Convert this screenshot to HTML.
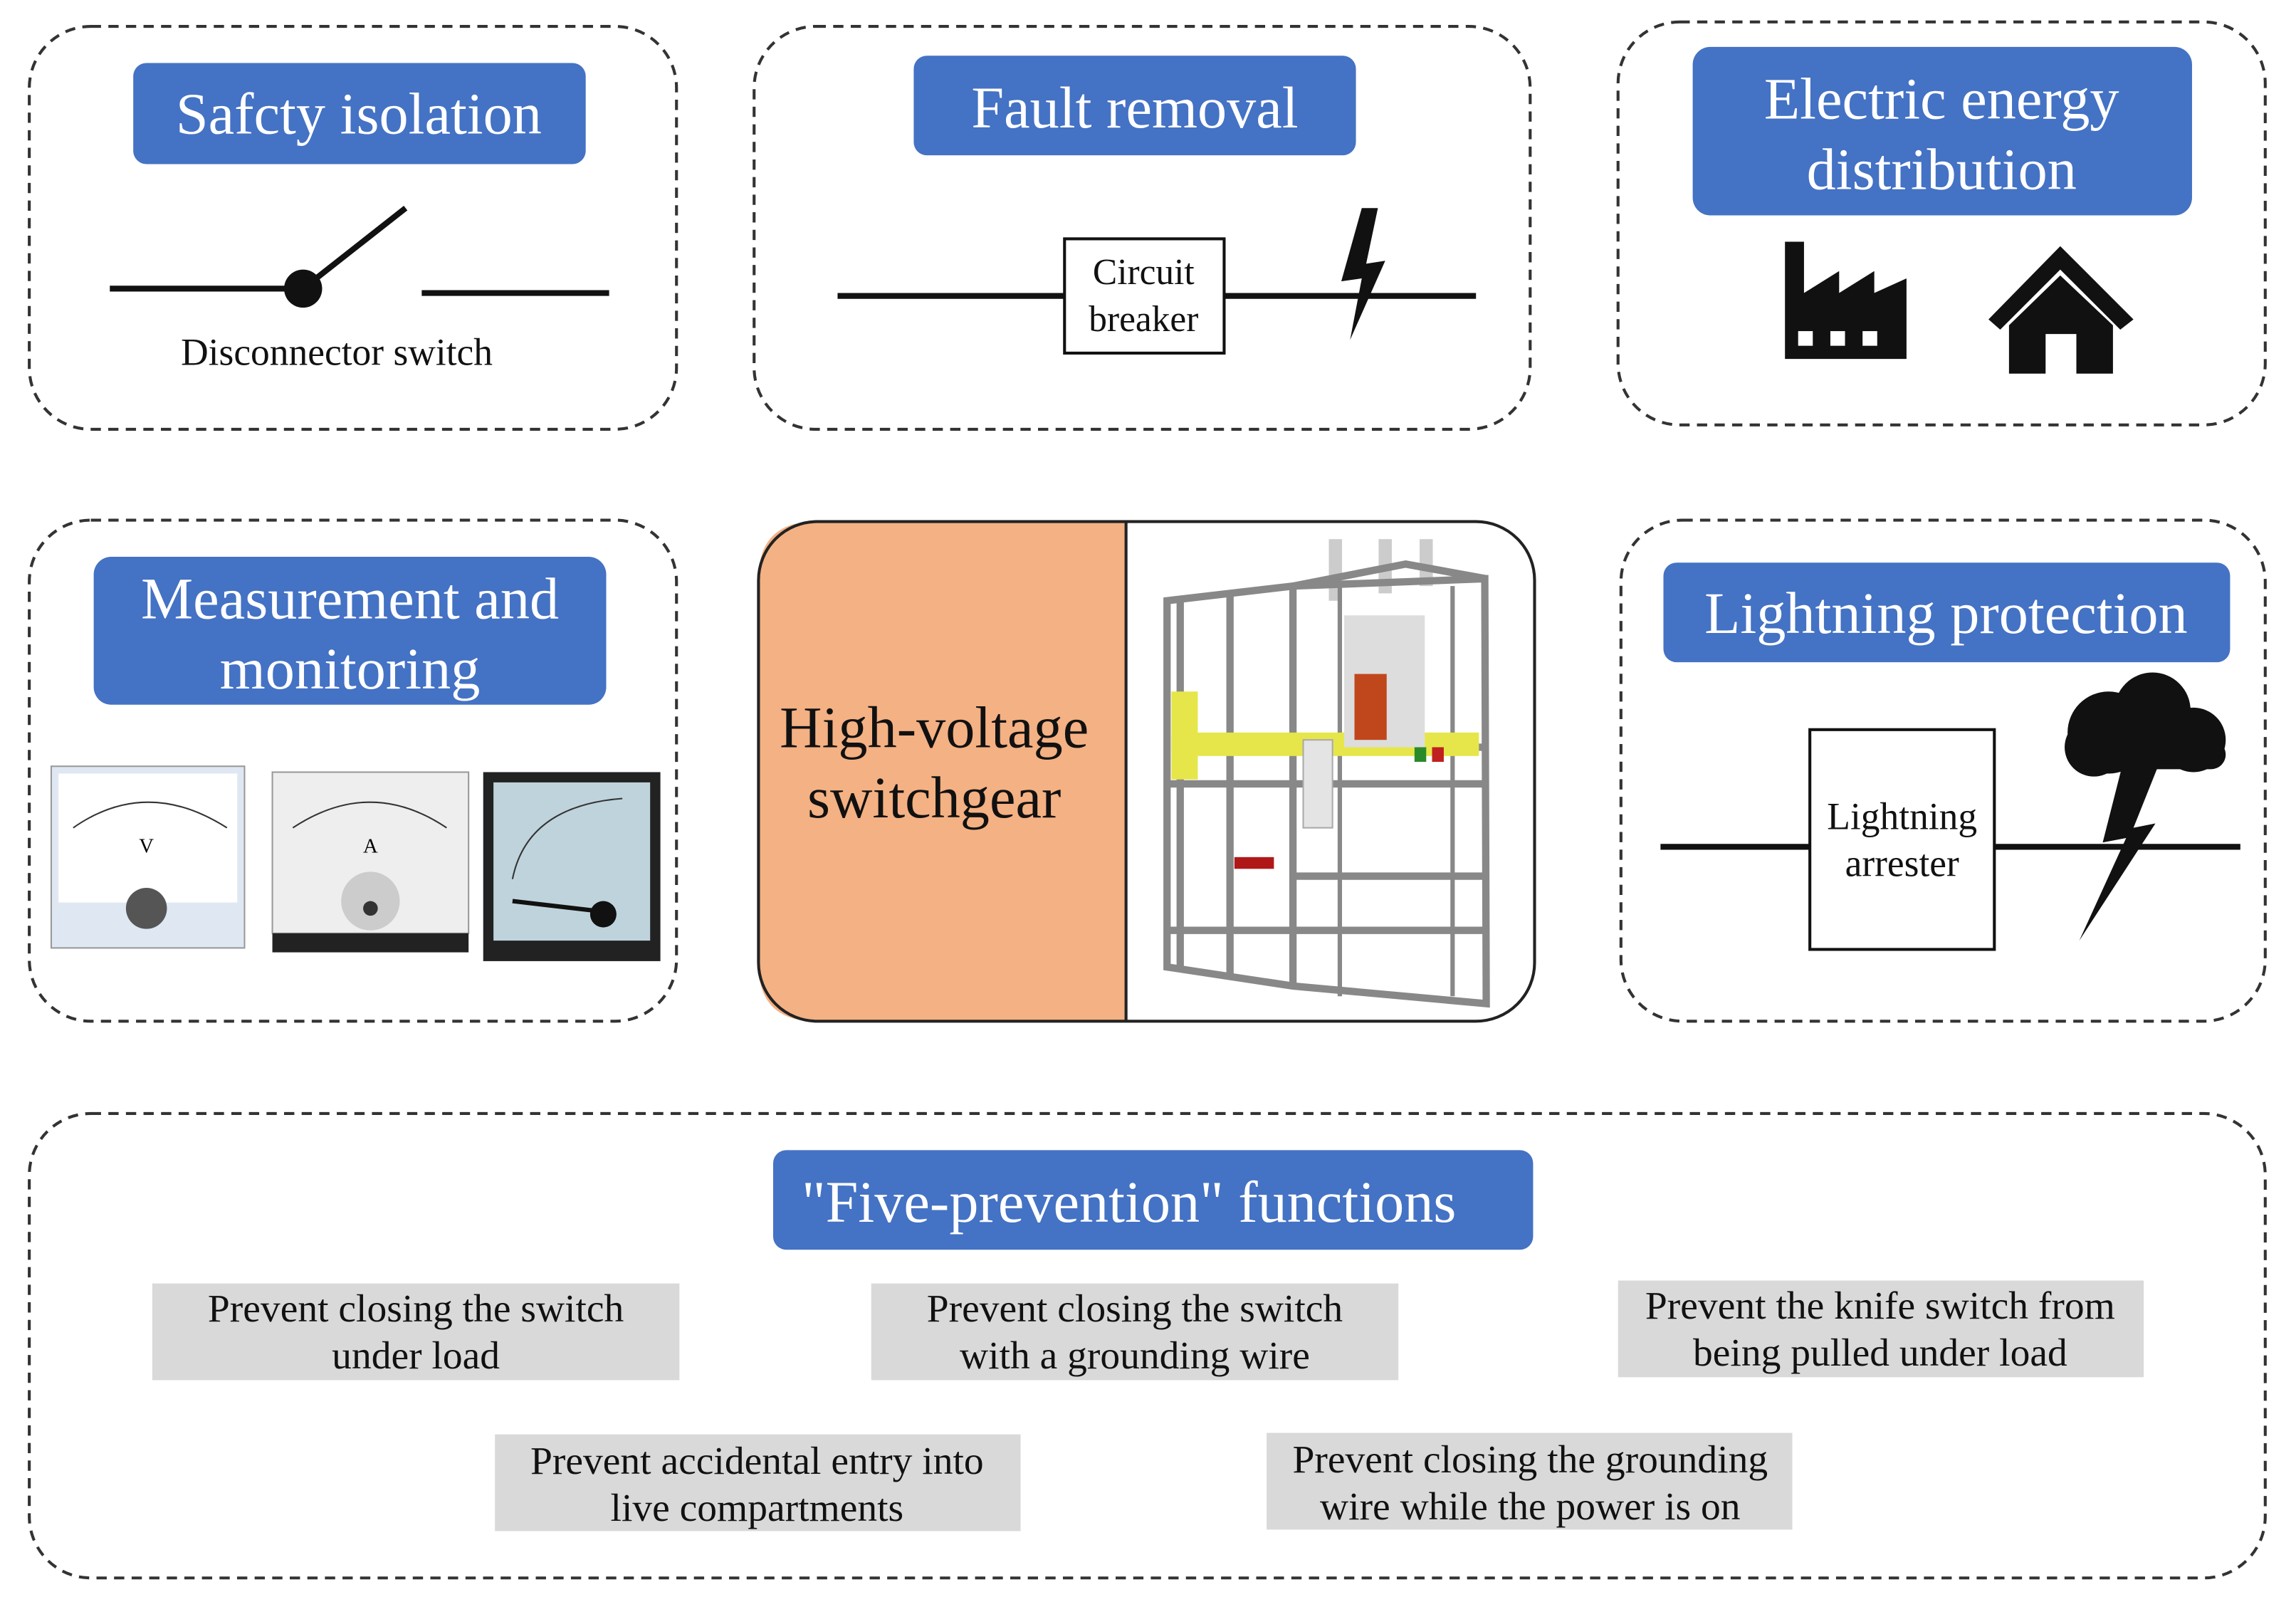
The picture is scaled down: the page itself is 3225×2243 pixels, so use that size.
<!DOCTYPE html>
<html><head><meta charset="utf-8"><style>
html,body{margin:0;padding:0;background:#fff;}
svg{display:block;}
text{font-family:"Liberation Serif",serif;}
</style></head><body>
<svg width="3225" height="2243" viewBox="0 0 1568 1090" preserveAspectRatio="none" xmlns="http://www.w3.org/2000/svg">
<rect width="1568" height="1090" fill="#fff"/>
<g fill="none" stroke="#333" stroke-width="2" stroke-dasharray="7,5">
<rect x="20" y="18" width="442" height="275" rx="42"/>
<rect x="515" y="18" width="530" height="275" rx="42"/>
<rect x="1105" y="15" width="442" height="275" rx="42"/>
<rect x="20" y="355" width="442" height="342" rx="42"/>
<rect x="1107" y="355" width="440" height="342" rx="42"/>
<rect x="20" y="760" width="1527" height="317" rx="42"/>
</g>
<!-- center -->
<path d="M769 356 H557 Q518 356 518 395 V658 Q518 697 557 697 H769 Z" fill="#F4B183"/>
<rect x="518" y="356" width="530" height="341" rx="40" fill="none" stroke="#222" stroke-width="2"/>
<line x1="769" y1="356" x2="769" y2="697" stroke="#222" stroke-width="2"/>
<text x="638" y="510" font-size="40" text-anchor="middle" fill="#111">High-voltage</text>
<text x="638" y="558" font-size="40" text-anchor="middle" fill="#111">switchgear</text>
<!-- switchgear drawing -->
<g stroke="#888" stroke-width="5" fill="none">
<path d="M912 368 V410 M946 368 V405 M974 368 V400" stroke="#ccc" stroke-width="9"/>
<path d="M797 410 L883 400 L1014 395 L1015 685 L883 673 L797 660 Z"/>
<path d="M883 400 V673 M840 405 V667 M806 410 V660"/>
<path d="M883 400 L960 385 L1015 395"/>
<path d="M797 535 H1015 M797 635 H1015 M883 510 H1015 M883 598 H1015"/>
<path d="M992 400 V680 M915 400 V680" stroke-width="3"/>
</g>
<rect x="800" y="472" width="18" height="60" fill="#e6e64a"/>
<rect x="800" y="500" width="210" height="16" fill="#e6e64a"/>
<rect x="918" y="420" width="55" height="90" fill="#ddd"/>
<rect x="925" y="460" width="22" height="45" fill="#c0471c"/>
<rect x="966" y="510" width="8" height="10" fill="#2a8a2a"/><rect x="978" y="510" width="8" height="10" fill="#c02020"/>
<rect x="843" y="585" width="27" height="8" fill="#b01818"/>
<rect x="890" y="505" width="20" height="60" fill="#e4e4e4" stroke="#aaa"/>
<!-- labels -->
<g fill="#4472C4">
<rect x="91" y="43" width="309" height="69" rx="9"/>
<rect x="624" y="38" width="302" height="68" rx="9"/>
<rect x="1156" y="32" width="341" height="115" rx="12"/>
<rect x="64" y="380" width="350" height="101" rx="12"/>
<rect x="1136" y="384" width="387" height="68" rx="9"/>
<rect x="528" y="785" width="519" height="68" rx="9"/>
</g>
<g fill="#fff" font-size="40" text-anchor="middle">
<text x="245" y="91">Safcty isolation</text>
<text x="775" y="87">Fault removal</text>
<text x="1326" y="81">Electric energy</text>
<text x="1326" y="129">distribution</text>
<text x="239" y="422">Measurement and</text>
<text x="239" y="470">monitoring</text>
<text x="1329" y="432">Lightning protection</text>
<text x="771" y="834">"Five-prevention" functions</text>
</g>
<!-- switch -->
<g stroke="#111" stroke-width="4">
<line x1="75" y1="197" x2="207" y2="197"/>
<line x1="207" y1="197" x2="277" y2="142"/>
<line x1="288" y1="200" x2="416" y2="200"/>
<line x1="572" y1="202" x2="727" y2="202"/>
<line x1="836" y1="202" x2="1008" y2="202"/>
<line x1="1134" y1="578" x2="1236" y2="578"/>
<line x1="1362" y1="578" x2="1530" y2="578"/>
</g>
<circle cx="207" cy="197" r="13" fill="#111"/>
<text x="230" y="249" font-size="26" text-anchor="middle" fill="#111">Disconnector switch</text>
<rect x="727" y="163" width="109" height="78" fill="#fff" stroke="#111" stroke-width="2"/>
<text x="781" y="194" font-size="25" text-anchor="middle" fill="#111">Circuit</text>
<text x="781" y="226" font-size="25" text-anchor="middle" fill="#111">breaker</text>
<path d="M930 142 L916 192 L930 190 L922 232 L946 178 L933 180 L941 142 Z" fill="#111"/>
<!-- factory -->
<path d="M1219 245 V165 H1232 V200 L1256 185 V200 L1280 185 V200 L1302 190 V245 Z" fill="#111"/>
<g fill="#fff"><rect x="1228" y="226" width="10" height="10"/><rect x="1250" y="226" width="10" height="10"/><rect x="1272" y="226" width="10" height="10"/></g>
<!-- house -->
<path d="M1358 218 L1407 168 L1457 218 L1448 225 L1407 184 L1366 225 Z" fill="#111"/>
<path d="M1372 222 L1407 188 L1443 222 V255 H1418 V228 H1397 V255 H1372 Z" fill="#111"/>
<!-- lightning arrester -->
<rect x="1236" y="498" width="126" height="150" fill="#fff" stroke="#111" stroke-width="2"/>
<text x="1299" y="566" font-size="26" text-anchor="middle" fill="#111">Lightning</text>
<text x="1299" y="598" font-size="26" text-anchor="middle" fill="#111">arrester</text>
<g fill="#111">
<circle cx="1440" cy="500" r="28"/><circle cx="1470" cy="485" r="26"/><circle cx="1498" cy="505" r="22"/><circle cx="1430" cy="510" r="20"/>
<rect x="1412" y="505" width="108" height="20" rx="10"/>
<path d="M1450 520 L1436 575 L1452 572 L1420 642 L1472 562 L1457 565 L1475 520 Z"/>
</g>
<!-- meters -->
<g>
<rect x="35" y="523" width="132" height="124" fill="#dfe8f2" stroke="#999"/>
<rect x="40" y="528" width="122" height="88" fill="#fff"/>
<path d="M50 565 Q100 530 155 565" stroke="#333" fill="none"/>
<text x="100" y="582" font-size="14" text-anchor="middle" font-family="Liberation Sans">V</text>
<circle cx="100" cy="620" r="14" fill="#555"/>
<rect x="186" y="527" width="134" height="110" fill="#eee" stroke="#999"/>
<rect x="186" y="637" width="134" height="13" fill="#222"/>
<path d="M200 565 Q253 530 305 565" stroke="#333" fill="none"/>
<text x="253" y="582" font-size="14" text-anchor="middle" font-family="Liberation Sans">A</text>
<circle cx="253" cy="615" r="20" fill="#ccc"/><circle cx="253" cy="620" r="5" fill="#333"/>
<rect x="330" y="527" width="121" height="129" fill="#222"/>
<rect x="337" y="534" width="107" height="108" fill="#bfd3dc"/>
<path d="M350 600 Q360 550 425 545" stroke="#333" fill="none"/>
<line x1="350" y1="615" x2="410" y2="622" stroke="#111" stroke-width="3"/>
<circle cx="412" cy="624" r="9" fill="#111"/>
</g>
<!-- gray boxes -->
<g fill="#D9D9D9">
<rect x="104" y="876" width="360" height="66"/>
<rect x="595" y="876" width="360" height="66"/>
<rect x="1105" y="874" width="359" height="66"/>
<rect x="338" y="979" width="359" height="66"/>
<rect x="865" y="978" width="359" height="66"/>
</g>
<g font-size="27" text-anchor="middle" fill="#111">
<text x="284" y="902">Prevent closing the switch</text>
<text x="284" y="934">under load</text>
<text x="775" y="902">Prevent closing the switch</text>
<text x="775" y="934">with a grounding wire</text>
<text x="1284" y="900">Prevent the knife switch from</text>
<text x="1284" y="932">being pulled under load</text>
<text x="517" y="1006">Prevent accidental entry into</text>
<text x="517" y="1038">live compartments</text>
<text x="1045" y="1005">Prevent closing the grounding</text>
<text x="1045" y="1037">wire while the power is on</text>
</g>
</svg>
</body></html>
